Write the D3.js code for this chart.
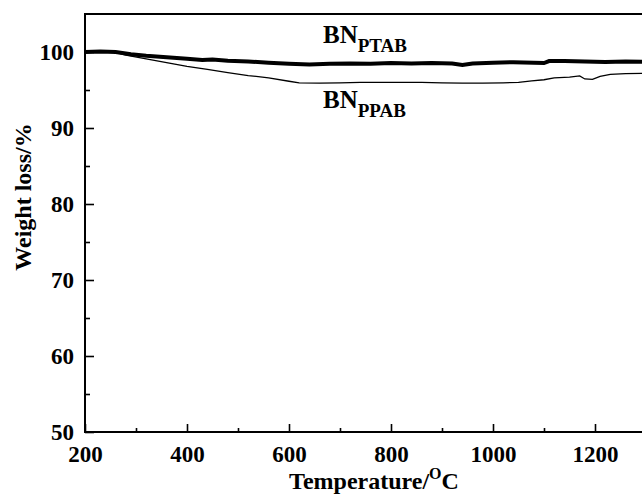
<!DOCTYPE html>
<html>
<head>
<meta charset="utf-8">
<script src="https://cdn.jsdelivr.net/npm/d3@7"></script>
<style>
  body { margin: 0; background: #fff; }
  text { font-family: "Liberation Serif", "Times New Roman", serif; font-weight: bold; fill: #000; }
</style>
</head>
<body>
<div id="chart-area"></div>
<script>

// SVG Size
let width = 642,
	height = 495;

// TGA data
let tempPTAB = [200, 230, 260, 290, 320, 360, 400, 430, 450, 480, 520, 560, 600, 640, 680, 720, 760, 800, 840, 880, 920, 940, 960, 1000, 1040, 1080, 1100, 1110, 1140, 1180, 1220, 1260, 1300];
let weightPTAB = [100.0, 100.05, 100.0, 99.7, 99.5, 99.3, 99.1, 98.95, 99.0, 98.85, 98.75, 98.6, 98.45, 98.35, 98.45, 98.5, 98.45, 98.55, 98.5, 98.55, 98.5, 98.3, 98.5, 98.6, 98.65, 98.6, 98.55, 98.8, 98.8, 98.75, 98.7, 98.75, 98.7];

let tempPPAB = [200, 240, 260, 280, 320, 360, 400, 440, 480, 520, 560, 600, 620, 660, 700, 740, 780, 820, 860, 900, 940, 980, 1020, 1050, 1076, 1100, 1120, 1150, 1170, 1180, 1195, 1210, 1230, 1260, 1300];
let weightPPAB = [100.0, 100.0, 99.95, 99.6, 99.1, 98.6, 98.1, 97.7, 97.3, 96.9, 96.6, 96.15, 95.95, 95.9, 95.95, 96.0, 96.0, 96.0, 96.0, 95.95, 95.9, 95.9, 95.95, 96.0, 96.2, 96.35, 96.6, 96.7, 96.85, 96.45, 96.4, 96.8, 97.05, 97.15, 97.2];

let xTicks = [200, 400, 600, 800, 1000, 1200];
let xMinorTicks = [300, 500, 700, 900, 1100, 1300];
let yTicks = [50, 60, 70, 80, 90, 100];
let yMinorTicks = [55, 65, 75, 85, 95];

let seriesPTAB = tempPTAB.map((t, i) => ({ t: t, w: weightPTAB[i] }));
let seriesPPAB = tempPPAB.map((t, i) => ({ t: t, w: weightPPAB[i] }));

drawChart();

function drawChart() {
	let svg = d3.select("#chart-area").append("svg").attr("width", width).attr("height", height);

	let left = 85, right = 646, top = 14, bottom = 432;

	let xScale = d3.scaleLinear().domain([200, 1300]).range([left, right]);
	let yScale = d3.scaleLinear().domain([50, 105]).range([bottom, top]);

	// frame
	svg.append("rect")
	.attr("x", left).attr("y", top)
	.attr("width", right - left).attr("height", bottom - top)
	.attr("fill", "none").attr("stroke", "#000").attr("stroke-width", 2);

	// ticks point inward
	let xAxis = d3.axisBottom(xScale).tickValues(xTicks).tickSize(-8).tickPadding(14).tickFormat(d3.format("d"));
	let xMinor = d3.axisBottom(xScale).tickValues(xMinorTicks).tickSize(-4).tickFormat("");
	let yAxis = d3.axisLeft(yScale).tickValues(yTicks).tickSize(-9).tickPadding(11);
	let yMinor = d3.axisLeft(yScale).tickValues(yMinorTicks).tickSize(-5).tickFormat("");

	svg.append("g").attr("transform", "translate(0," + bottom + ")").call(xAxis);
	svg.append("g").attr("transform", "translate(0," + bottom + ")").call(xMinor);
	svg.append("g").attr("transform", "translate(" + left + ",0)").call(yAxis);
	svg.append("g").attr("transform", "translate(" + left + ",0)").call(yMinor);

	svg.selectAll(".domain").remove();
	svg.selectAll(".tick line").attr("stroke", "#000").attr("stroke-width", 1.6);
	svg.selectAll(".tick text").style("font-family", "Liberation Serif").style("font-weight", "bold").attr("font-size", 23);

	// lines
	let line = d3.line().x(d => xScale(d.t)).y(d => yScale(d.w));

	svg.append("clipPath").attr("id", "clip")
	.append("rect").attr("x", left).attr("y", top).attr("width", right - left).attr("height", bottom - top);

	svg.append("path")
	.datum(seriesPPAB)
	.attr("clip-path", "url(#clip)")
	.attr("d", line)
	.attr("fill", "none").attr("stroke", "#000").attr("stroke-width", 1.3);

	svg.append("path")
	.datum(seriesPTAB)
	.attr("clip-path", "url(#clip)")
	.attr("d", line)
	.attr("fill", "none").attr("stroke", "#000").attr("stroke-width", 4);

	// series labels
	let lab1 = svg.append("text").attr("x", 323).attr("y", 43).attr("font-size", 25);
	lab1.append("tspan").text("BN");
	lab1.append("tspan").attr("dy", 9).attr("font-size", 19).text("PTAB");

	let lab2 = svg.append("text").attr("x", 323).attr("y", 108).attr("font-size", 25);
	lab2.append("tspan").text("BN");
	lab2.append("tspan").attr("dy", 9).attr("font-size", 19).text("PPAB");

	// axis titles
	let xt = svg.append("text")
	.attr("x", 374).attr("y", 489)
	.attr("text-anchor", "middle")
	.attr("font-size", 24);
	xt.append("tspan").text("Temperature/");
	xt.append("tspan").attr("dy", -10).attr("font-size", 16).text("O");
	xt.append("tspan").attr("dy", 10).text("C");

	svg.append("text")
	.attr("transform", "translate(31,197) rotate(-90)")
	.attr("text-anchor", "middle")
	.attr("font-size", 24)
	.text("Weight loss/%");
}

</script>
</body>
</html>
